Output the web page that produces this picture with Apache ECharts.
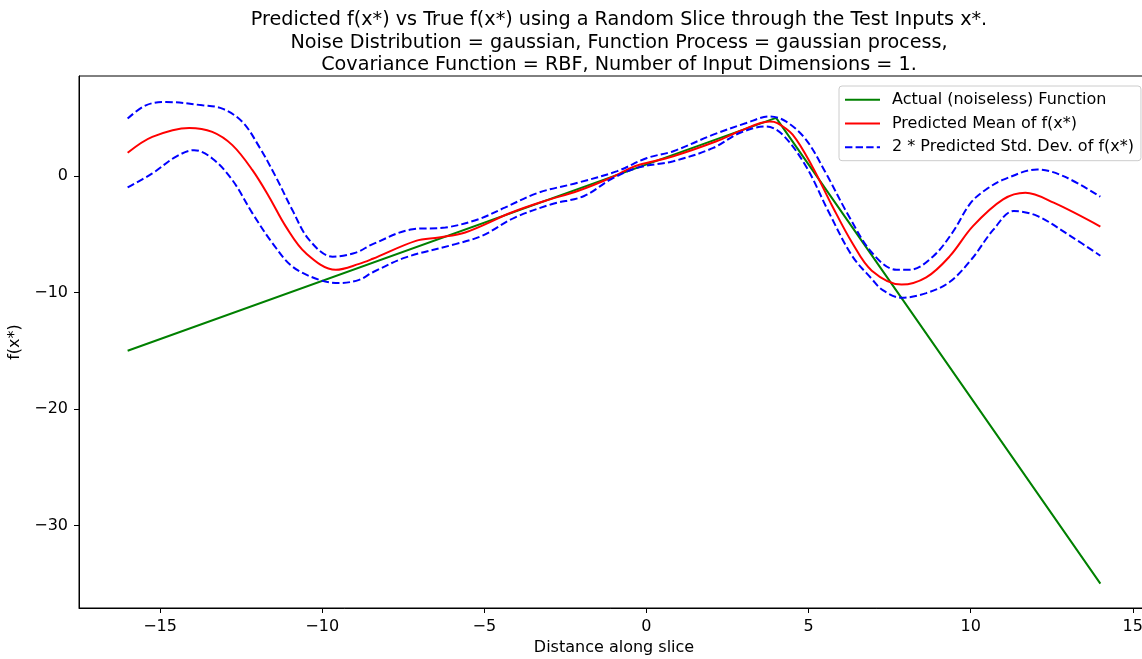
<!DOCTYPE html>
<html>
<head>
<meta charset="utf-8">
<script src="https://cdn.jsdelivr.net/npm/echarts@6/dist/echarts.min.js"></script>
<style>html,body{margin:0;padding:0;background:#fff;overflow:hidden}#c{width:1142px;height:659px}</style>
</head>
<body>
<div id="c"></div>
<script>
const titleLines = [
  "Predicted f(x*) vs True f(x*) using a Random Slice through the Test Inputs x*.",
  "Noise Distribution = gaussian, Function Process = gaussian process,",
  "Covariance Function = RBF, Number of Input Dimensions = 1."
];
const seriesNames = ["Actual (noiseless) Function", "Predicted Mean of f(x*)", "2 * Predicted Std. Dev. of f(x*)"];
const xTicks = [-15, -10, -5, 0, 5, 10, 15];
const yTicks = [-30, -20, -10, 0];

const actual = [[-16, -15], [4, 5], [14, -35]];
const mean = [[-16,2.0],[-15.24,3.37],[-14.1,4.14],[-13.39,3.8],[-12.77,2.66],[-12.15,0.51],[-11.64,-1.77],[-11.12,-4.34],[-10.5,-6.63],[-9.58,-8.05],[-8.86,-7.54],[-8.44,-7.1],[-7.11,-5.56],[-6.4,-5.27],[-5.59,-4.84],[-4.16,-3.13],[-3.14,-2.14],[-2.12,-1.28],[-1.1,-0.14],[-0.48,0.71],[-0.19,1.0],[0.83,1.71],[2.16,2.99],[2.87,3.85],[3.8,4.7],[4.04,4.56],[4.51,3.56],[5.11,0.85],[5.73,-2.56],[6.34,-5.7],[6.95,-8.12],[7.87,-9.32],[8.63,-8.7],[9.35,-6.9],[10.07,-4.3],[11.0,-2.0],[11.69,-1.43],[12.56,-2.28],[14,-4.33]];
const upper = [[-16,4.94],[-15.44,6.08],[-14.82,6.37],[-13.69,6.08],[-13.08,5.8],[-12.46,4.65],[-11.94,2.51],[-11.43,-0.06],[-10.92,-2.91],[-10.4,-5.48],[-9.68,-6.92],[-8.96,-6.57],[-8.44,-5.84],[-7.21,-4.56],[-6.2,-4.42],[-5.18,-3.7],[-4.37,-2.71],[-3.34,-1.43],[-2.12,-0.57],[-0.9,0.43],[0.02,1.56],[0.83,2.14],[2.06,3.56],[3.08,4.56],[3.8,5.13],[4.3,4.7],[4.92,3.14],[5.53,0.28],[6.24,-3.42],[6.95,-6.56],[7.71,-8.05],[8.12,-8.05],[8.84,-6.9],[9.45,-4.8],[10.0,-2.3],[10.5,-1.1],[11.03,-0.28],[12.05,0.57],[12.86,0],[14,-1.77]];
const lower = [[-16,-0.97],[-15.24,0.23],[-14.52,1.65],[-13.95,2.23],[-13.39,1.52],[-12.77,-0.34],[-12.15,-3.2],[-11.53,-5.77],[-10.92,-7.77],[-10.09,-8.91],[-9.48,-9.19],[-8.86,-8.91],[-8.44,-8.26],[-7.42,-6.98],[-5.89,-5.84],[-5.07,-5.13],[-4.06,-3.56],[-2.93,-2.42],[-1.92,-1.71],[-1.1,-0.28],[-0.29,0.71],[0.83,1.28],[2.06,2.42],[2.87,3.7],[3.69,4.27],[4.2,3.56],[4.92,0.85],[5.63,-3.13],[6.34,-6.84],[6.95,-8.83],[7.29,-9.8],[7.87,-10.45],[8.63,-10.05],[9.35,-9.1],[10.04,-7.1],[10.7,-4.6],[11.33,-3.0],[12.05,-3.42],[13.07,-5.13],[14,-6.84]];

const FONT = "DejaVu Sans";
const fmt = v => String(v).replace('-', '\u2212');
const chart = echarts.init(document.getElementById('c'), null, {renderer: 'canvas'});
const dash = [7.4, 3.2];
chart.setOption({
  animation: false,
  backgroundColor: '#fff',
  textStyle: {fontFamily: FONT},
  title: {
    text: titleLines.join('\n'),
    left: 614, top: 4, textAlign: 'center',
    textStyle: {fontFamily: FONT, fontSize: 19.2, fontWeight: 'normal', color: '#000', lineHeight: 22.5}
  },
  grid: {left: 79, top: 76, right: -7, bottom: 51, outerBoundsMode: 'none', containLabel: false,
         show: true, borderColor: '#000', borderWidth: 1, backgroundColor: 'transparent'},
  legend: {
    data: seriesNames,
    orient: 'vertical', left: 839, top: 86,
    padding: [5.7, 7, 5.4, 5],
    itemWidth: 35, itemHeight: 16, itemGap: 7.8,
    itemStyle: {opacity: 0},
    backgroundColor: 'rgba(255,255,255,0.8)', borderColor: '#ccc', borderWidth: 1, borderRadius: 3,
    textStyle: {fontFamily: FONT, fontSize: 16, color: '#000', padding: [0, 0, 0, 7]}
  },
  xAxis: {
    type: 'value', min: -17.5, max: 15.5,
    name: 'Distance along slice', nameLocation: 'middle', nameGap: 32,
    nameTextStyle: {fontFamily: FONT, fontSize: 16, color: '#000'},
    axisLine: {show: true, onZero: false, lineStyle: {color: '#000', width: 1}},
    axisTick: {show: true, length: 5, customValues: xTicks, lineStyle: {color: '#000'}},
    axisLabel: {customValues: xTicks, formatter: fmt, fontFamily: FONT, fontSize: 16, color: '#000', margin: 11},
    splitLine: {show: false}
  },
  yAxis: {
    type: 'value', min: -37.1, max: 8.6,
    name: 'f(x*)', nameLocation: 'middle', nameGap: 46, nameRotate: 90,
    nameTextStyle: {fontFamily: FONT, fontSize: 16, color: '#000'},
    axisLine: {show: true, onZero: false, lineStyle: {color: '#000', width: 1}},
    axisTick: {show: true, length: 5, customValues: yTicks, lineStyle: {color: '#000'}},
    axisLabel: {customValues: yTicks, formatter: fmt, fontFamily: FONT, fontSize: 16, color: '#000', margin: 11},
    splitLine: {show: false}
  },
  series: [
    {name: seriesNames[0], type: 'line', data: actual, symbol: 'none', z: 3,
     lineStyle: {color: '#008000', width: 2}, itemStyle: {color: '#008000'}},
    {name: seriesNames[1], type: 'line', data: mean, symbol: 'none', smooth: 0.35, z: 4,
     lineStyle: {color: '#ff0000', width: 2}, itemStyle: {color: '#ff0000'}},
    {name: seriesNames[2], type: 'line', data: upper, symbol: 'none', smooth: 0.35, z: 5,
     lineStyle: {color: '#0000ff', width: 2, type: dash}, itemStyle: {color: '#0000ff'}},
    {name: seriesNames[2], type: 'line', data: lower, symbol: 'none', smooth: 0.35, z: 5,
     lineStyle: {color: '#0000ff', width: 2, type: dash}, itemStyle: {color: '#0000ff'}}
  ]
});
</script>
</body>
</html>
